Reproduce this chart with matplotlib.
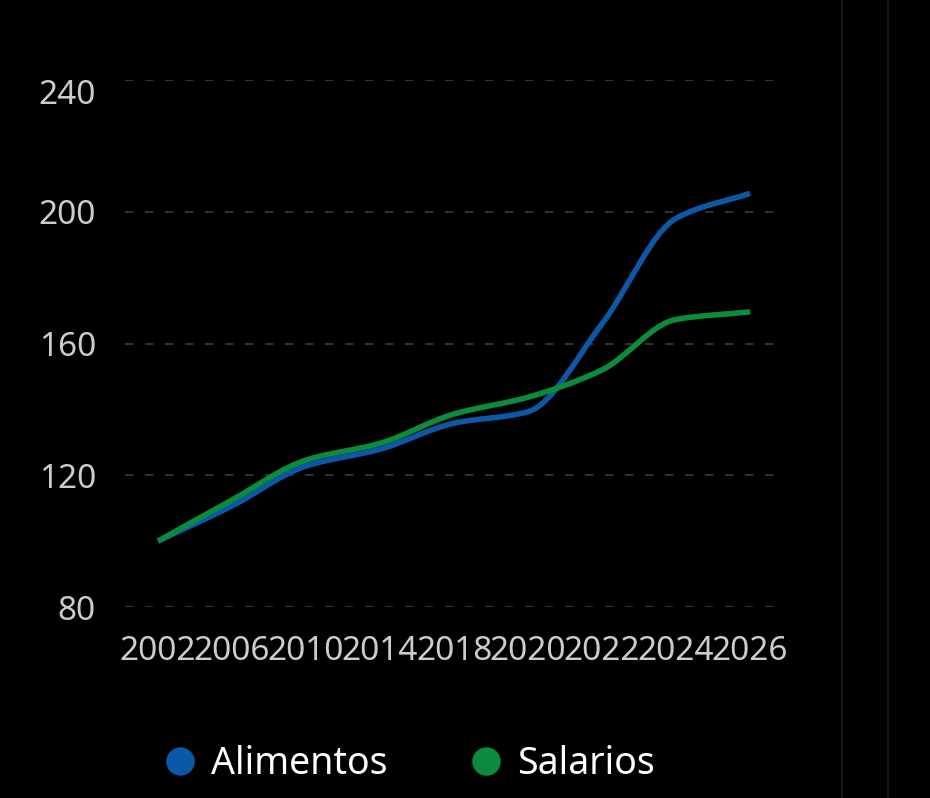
import numpy as np
import matplotlib
matplotlib.use("Agg")
import matplotlib.pyplot as plt
import matplotlib.transforms as mtransforms
from matplotlib.path import Path
from matplotlib.patches import PathPatch
from matplotlib.lines import Line2D

# data
years = ["2002", "2006", "2010", "2014", "2018", "2020", "2022", "2024", "2026"]
alimentos = [100, 110.7, 122.8, 127.9, 135.8, 139.3, 166.0, 198.0, 205.6]
salarios = [100, 112.5, 124.6, 129.7, 138.6, 143.7, 152.0, 167.3, 169.6]
yticks = [80, 120, 160, 200, 240]

blue = "#0b58a6"
green = "#0b8b3c"

plt.rcParams['font.family'] = ['Noto Sans', 'DejaVu Sans']


# smooth (monotone cubic) path through the points, drawn as bezier segments
def smooth_path(x, y):
    x = np.asarray(x, float)
    y = np.asarray(y, float)
    h = np.diff(x)
    d = np.diff(y) / h
    m = np.zeros_like(y)
    m[0], m[-1] = d[0], d[-1]
    for i in range(1, len(y) - 1):
        if d[i - 1] * d[i] <= 0:
            m[i] = 0
        else:
            m[i] = 2 / (1 / d[i - 1] + 1 / d[i])
    verts = [(x[0], y[0])]
    codes = [Path.MOVETO]
    for i in range(len(x) - 1):
        verts += [(x[i] + h[i] / 3, y[i] + m[i] * h[i] / 3),
                  (x[i + 1] - h[i] / 3, y[i + 1] - m[i + 1] * h[i] / 3),
                  (x[i + 1], y[i + 1])]
        codes += [Path.CURVE4] * 3
    return Path(verts, codes)


fig = plt.figure(figsize=(9.3, 7.98), dpi=100, facecolor="black")
ax = fig.add_axes([125 / 930, 1 - 607 / 798, 651 / 930, 527 / 798])
ax.set_facecolor("black")

xs = np.arange(len(years))
for vals, col in [(alimentos, blue), (salarios, green)]:
    ax.add_patch(PathPatch(smooth_path(xs, vals), facecolor="none",
                           edgecolor=col, lw=4, capstyle="butt", zorder=3))

ax.set_xlim(-0.446, 8.35)
ax.set_ylim(80, 240)
ax.set_xticks(xs)
ax.set_xticklabels(years)
ax.set_yticks(yticks)
ax.tick_params(length=0, labelsize=24, labelcolor="#cccccc")
ax.tick_params(axis="y", pad=21)
ax.tick_params(axis="x", pad=20)
ax.yaxis.grid(True, color="#3c3c3c", lw=1.2, linestyle=(0, (5, 7)))
ax.xaxis.grid(False)
for s in ax.spines.values():
    s.set_visible(False)

# the top label sits a little below its grid line in the reference
top = ax.get_yticklabels()[-1]
top.set_transform(top.get_transform() +
                  mtransforms.ScaledTranslation(0, -0.11, fig.dpi_scale_trans))

# faint separators on the right side
for xp in [842, 888]:
    fig.add_artist(Line2D([xp / 930, xp / 930], [0, 1], color="#1c1c1c",
                          lw=1.2, transform=fig.transFigure))

handles = [Line2D([], [], marker="o", ls="none", color=blue, markersize=19.5, label="Alimentos"),
           Line2D([], [], marker="o", ls="none", color=green, markersize=19.5, label="Salarios")]
fig.legend(handles=handles, loc="center left", bbox_to_anchor=(166 / 930, 1 - 764 / 798),
           ncol=2, frameon=False, fontsize=27, labelcolor="white",
           handlelength=0.72, handletextpad=0.47, columnspacing=2.27,
           borderpad=0, borderaxespad=0)

fig.savefig("out.png", dpi=100, facecolor="black")
